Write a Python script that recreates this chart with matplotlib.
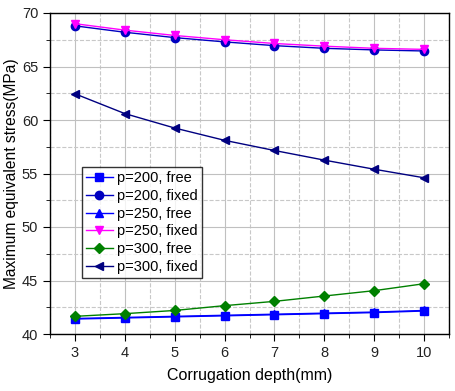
import matplotlib
matplotlib.use("Agg")
import matplotlib.pyplot as plt
from matplotlib.ticker import MultipleLocator

plt.rcParams['font.family'] = ['Liberation Sans', 'DejaVu Sans']

depth = [3, 4, 5, 6, 7, 8, 9, 10]
p200_free = [41.4, 41.5, 41.6, 41.7, 41.8, 41.9, 42.0, 42.15]
p200_fixed = [68.8, 68.2, 67.7, 67.3, 66.95, 66.7, 66.55, 66.45]
p250_free = [41.45, 41.55, 41.65, 41.75, 41.85, 41.95, 42.05, 42.2]
p250_fixed = [69.0, 68.4, 67.9, 67.5, 67.15, 66.9, 66.7, 66.6]
p300_free = [41.65, 41.9, 42.2, 42.65, 43.05, 43.55, 44.05, 44.7]
p300_fixed = [62.45, 60.6, 59.25, 58.1, 57.15, 56.25, 55.4, 54.6]

labels = ["p=200, free", "p=200, fixed", "p=250, free",
          "p=250, fixed", "p=300, free", "p=300, fixed"]

fig = plt.figure(figsize=(4.55, 3.91), dpi=100)
ax = fig.add_axes([50/455, 1-334/391, 399/455, 321/391])

series = [
    (p200_free, 's', '#0000ff'),
    (p200_fixed, 'o', '#0000c0'),
    (p250_free, '^', '#0000ff'),
    (p250_fixed, 'v', '#ff00ff'),
    (p300_free, 'D', '#008000'),
    (p300_fixed, '<', '#000080'),
]
for (vals, mk, col), lab in zip(series, labels):
    ms = 5 if mk == 'D' else 6
    ax.plot(depth, vals, marker=mk, color=col, markersize=ms, linewidth=1.0,
            label=lab, zorder=3)

ax.set_xlim(2.5, 10.5)
ax.set_ylim(40, 70)
ax.xaxis.set_major_locator(MultipleLocator(1))
ax.xaxis.set_minor_locator(MultipleLocator(0.5))
ax.yaxis.set_major_locator(MultipleLocator(5))
ax.yaxis.set_minor_locator(MultipleLocator(2.5))
ax.grid(which='major', color='#c0c0c0', linestyle='-', linewidth=0.8)
ax.grid(which='minor', color='#c8c8c8', linestyle='--', linewidth=0.8)
ax.set_axisbelow(True)
ax.tick_params(which='major', direction='out', length=5, labelsize=10.5,
               labelcolor='#222222')
ax.tick_params(which='minor', direction='out', length=3)
for s in ax.spines.values():
    s.set_linewidth(1.0)

ax.set_xlabel("Corrugation depth(mm)", fontsize=11.5, labelpad=6)
ax.set_ylabel("Maximum equivalent stress(MPa)", fontsize=11.2, labelpad=2)

leg = ax.legend(loc='upper left', bbox_to_anchor=(0.08, 0.52), fontsize=10.5,
                frameon=True, fancybox=False, edgecolor='black',
                handlelength=1.8, handletextpad=0.3, borderpad=0.3,
                labelspacing=0.25, borderaxespad=0)
leg.get_frame().set_linewidth(1.0)

fig.savefig("out.png", dpi=100)
